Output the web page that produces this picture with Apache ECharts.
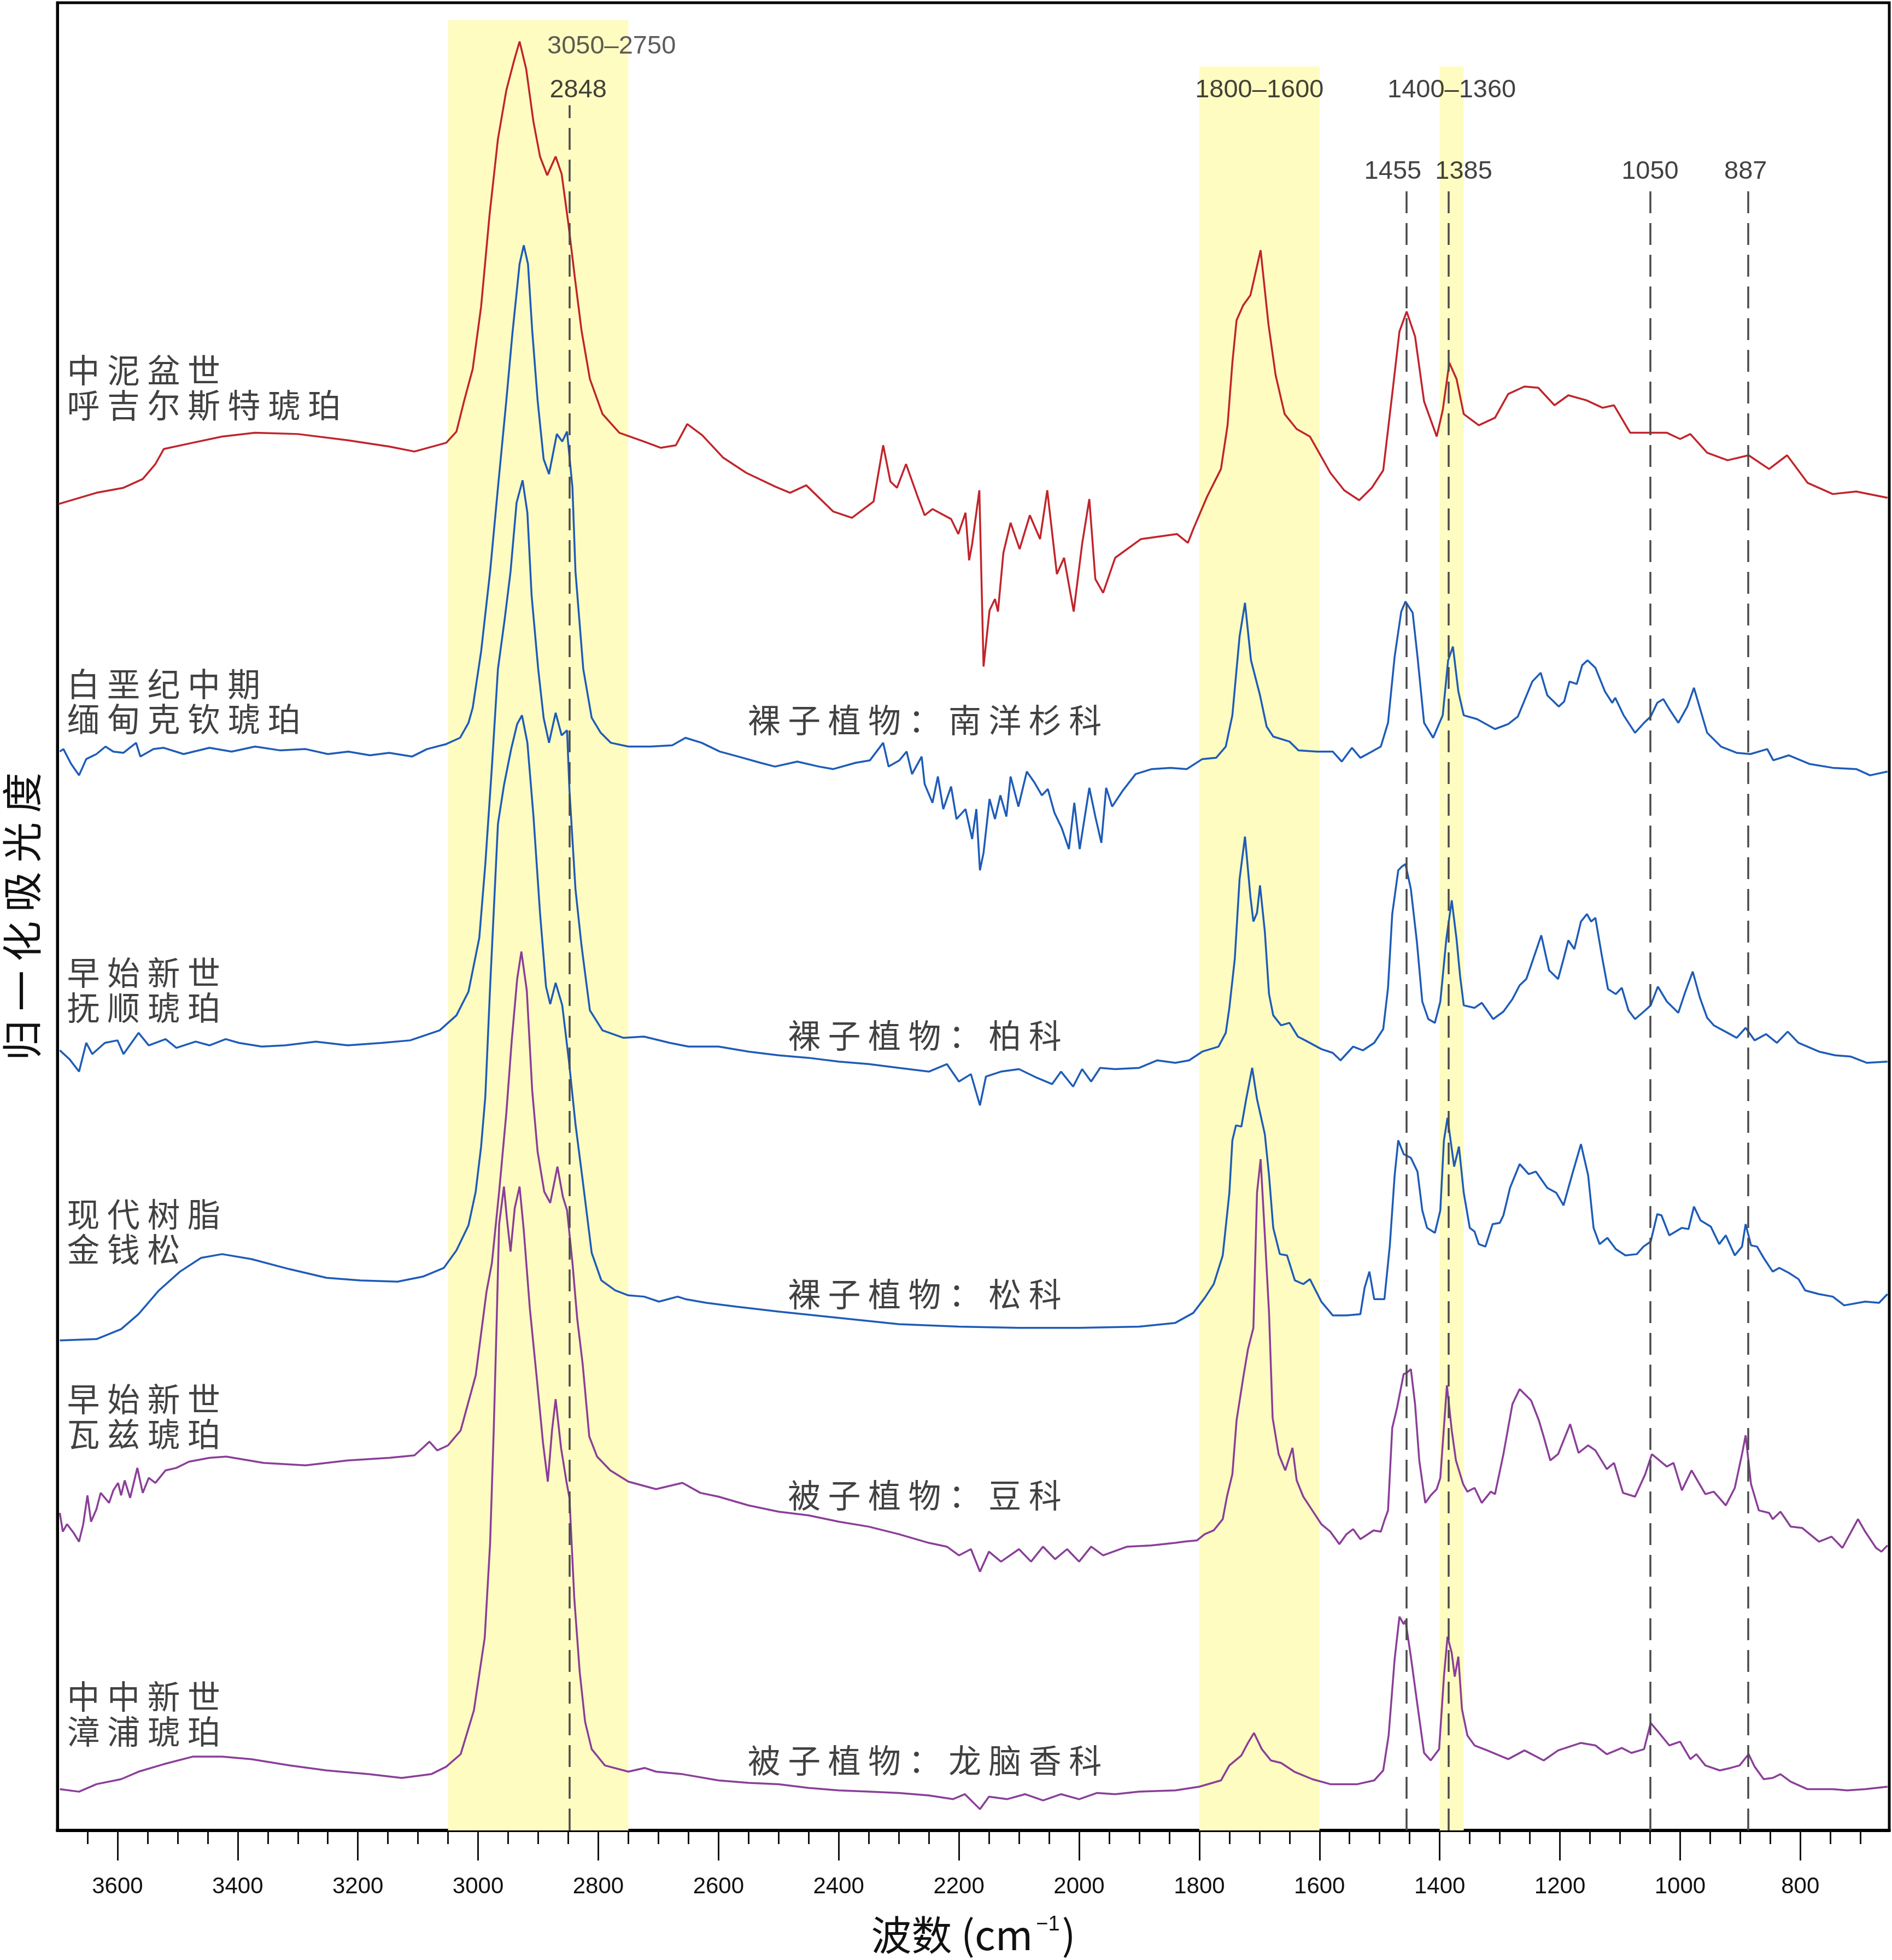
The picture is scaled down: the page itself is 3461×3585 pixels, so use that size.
<!DOCTYPE html>
<html>
<head>
<meta charset="utf-8">
<script src="https://cdn.jsdelivr.net/npm/echarts@6/dist/echarts.min.js"></script>
<style>
  html, body { margin: 0; padding: 0; background: #fff; }
  #chart { width: 3461px; height: 3585px; }
</style>
</head>
<body>
<div id="chart"></div>
<script>
// wavenumber (cm-1) , normalized absorbance (stacked, arbitrary units)
const hujiersite = [[3698,1061],[3635,1070],[3590,1074],[3558,1081],[3537,1093],[3523,1105],[3475,1110],[3426,1115],[3371,1118],[3300,1117],[3217,1112],[3148,1107],[3106,1103],[3053,1110],[3036,1119],[3023,1144],[3009,1169],[2995,1219],[2981,1292],[2967,1353],[2953,1392],[2940,1416],[2931,1431],[2920,1409],[2908,1367],[2897,1339],[2885,1324],[2871,1339],[2861,1325],[2850,1286],[2839,1242],[2828,1200],[2814,1161],[2793,1133],[2765,1118],[2724,1111],[2696,1106],[2671,1108],[2652,1125],[2627,1116],[2592,1098],[2554,1086],[2506,1075],[2481,1070],[2454,1076],[2409,1055],[2378,1050],[2342,1063],[2326,1108],[2314,1079],[2303,1074],[2288,1093],[2268,1066],[2257,1052],[2244,1057],[2213,1049],[2201,1037],[2189,1054],[2183,1016],[2178,1029],[2166,1072],[2159,931],[2149,976],[2140,985],[2135,975],[2126,1022],[2114,1046],[2099,1025],[2082,1052],[2065,1033],[2053,1072],[2037,1005],[2025,1018],[2009,975],[1995,1029],[1983,1065],[1973,1001],[1960,990],[1940,1018],[1897,1033],[1837,1037],[1819,1030],[1810,1041],[1787,1067],[1764,1089],[1753,1124],[1745,1174],[1738,1208],[1727,1220],[1715,1228],[1698,1264],[1685,1205],[1673,1164],[1658,1133],[1638,1121],[1616,1115],[1582,1086],[1559,1072],[1534,1064],[1513,1074],[1494,1088],[1479,1149],[1467,1199],[1455,1215],[1441,1195],[1426,1143],[1405,1115],[1395,1136],[1384,1174],[1372,1161],[1360,1133],[1335,1124],[1308,1130],[1286,1149],[1259,1155],[1236,1154],[1209,1140],[1186,1148],[1156,1144],[1129,1138],[1110,1140],[1083,1118],[1049,1118],[1022,1118],[1000,1113],[983,1117],[955,1102],[921,1096],[886,1100],[852,1089],[822,1100],[788,1078],[746,1069],[707,1071],[655,1066]];

const kachin = [[3696,863],[3690,865],[3677,853],[3664,844],[3652,857],[3635,861],[3620,867],[3607,863],[3590,862],[3569,870],[3562,859],[3540,865],[3523,866],[3490,861],[3447,866],[3410,863],[3371,867],[3330,864],[3287,865],[3250,861],[3216,863],[3180,860],[3148,862],[3110,859],[3085,865],[3053,869],[3030,874],[3016,886],[3009,898],[2995,943],[2980,1007],[2967,1074],[2953,1144],[2943,1197],[2931,1253],[2924,1268],[2917,1253],[2910,1200],[2901,1144],[2891,1097],[2882,1085],[2869,1117],[2860,1111],[2852,1119],[2843,1074],[2838,1007],[2825,929],[2811,890],[2796,878],[2779,870],[2750,867],[2713,867],[2677,868],[2655,874],[2628,870],[2598,863],[2567,859],[2530,854],[2506,851],[2469,855],[2433,851],[2409,849],[2372,854],[2348,856],[2326,870],[2317,851],[2299,856],[2287,863],[2278,845],[2262,859],[2257,837],[2244,822],[2235,843],[2226,817],[2213,835],[2204,809],[2189,817],[2178,793],[2171,817],[2165,768],[2159,782],[2149,825],[2140,809],[2131,828],[2121,811],[2114,843],[2101,819],[2087,847],[2074,838],[2062,828],[2052,833],[2041,814],[2029,802],[2017,785],[2008,822],[1999,785],[1983,834],[1973,811],[1963,790],[1955,834],[1945,819],[1927,832],[1906,845],[1879,849],[1848,850],[1821,849],[1795,857],[1772,858],[1756,867],[1745,892],[1733,955],[1724,982],[1714,936],[1699,908],[1688,883],[1677,875],[1650,871],[1635,864],[1604,863],[1578,863],[1563,855],[1546,866],[1532,858],[1513,863],[1498,867],[1486,886],[1475,939],[1464,975],[1457,983],[1445,974],[1437,939],[1426,886],[1411,874],[1395,892],[1386,936],[1378,947],[1369,911],[1360,892],[1338,889],[1308,881],[1286,885],[1270,891],[1258,905],[1246,919],[1232,926],[1221,908],[1202,899],[1193,903],[1184,919],[1172,917],[1163,932],[1154,936],[1141,930],[1125,911],[1113,902],[1108,906],[1094,892],[1075,878],[1060,886],[1049,891],[1038,902],[1028,905],[1018,897],[1003,886],[988,899],[977,914],[966,896],[955,878],[932,867],[906,862],[883,861],[855,865],[845,856],[819,860],[784,853],[746,850],[707,849],[684,844],[655,847]];

const fushun = [[3696,624],[3680,617],[3664,607],[3652,630],[3642,621],[3621,630],[3600,632],[3590,621],[3565,638],[3548,628],[3520,633],[3502,626],[3470,631],[3447,628],[3420,633],[3398,630],[3360,627],[3321,628],[3270,631],[3217,628],[3160,630],[3113,632],[3064,640],[3036,652],[3016,671],[2998,714],[2988,773],[2977,851],[2967,929],[2956,968],[2946,1007],[2936,1062],[2926,1080],[2918,1054],[2911,988],[2900,929],[2891,890],[2882,870],[2871,894],[2861,876],[2852,880],[2848,832],[2838,753],[2828,708],[2814,656],[2793,640],[2758,634],[2724,635],[2681,630],[2650,627],[2600,627],[2550,623],[2500,620],[2450,618],[2400,615],[2350,613],[2300,610],[2250,607],[2220,613],[2200,599],[2180,605],[2165,580],[2155,603],[2130,607],[2100,609],[2070,602],[2045,597],[2030,607],[2010,595],[1995,609],[1980,599],[1965,610],[1940,609],[1900,610],[1870,616],[1840,614],[1817,616],[1795,623],[1768,627],[1756,638],[1750,658],[1741,697],[1733,761],[1724,795],[1715,747],[1710,727],[1704,734],[1699,756],[1691,719],[1684,669],[1677,652],[1664,644],[1650,646],[1636,635],[1620,631],[1597,625],[1578,622],[1565,616],[1544,627],[1528,624],[1509,630],[1494,641],[1486,674],[1479,733],[1469,768],[1463,771],[1457,773],[1448,753],[1438,711],[1429,663],[1419,649],[1408,646],[1399,663],[1389,713],[1380,744],[1372,713],[1366,683],[1360,660],[1342,658],[1330,662],[1311,649],[1294,655],[1279,665],[1267,676],[1256,681],[1248,692],[1231,716],[1218,688],[1203,681],[1194,697],[1186,712],[1176,705],[1165,727],[1155,733],[1148,727],[1141,730],[1130,699],[1120,673],[1107,669],[1097,674],[1086,656],[1075,649],[1058,656],[1049,660],[1037,675],[1022,663],[1003,654],[992,670],[979,687],[967,666],[955,650],[944,644],[921,638],[906,634],[891,642],[876,632],[857,637],[839,630],[821,639],[803,630],[769,623],[742,620],[716,619],[689,614],[655,615]];

const jinqiansong = [[3696,392],[3635,393],[3594,401],[3565,413],[3531,432],[3496,447],[3461,458],[3426,461],[3377,457],[3314,449],[3252,442],[3196,440],[3134,439],[3092,443],[3057,450],[3036,464],[3016,484],[3004,511],[2995,547],[2988,587],[2980,675],[2973,745],[2967,805],[2957,836],[2945,865],[2935,885],[2927,892],[2918,870],[2908,812],[2897,734],[2887,675],[2880,661],[2871,678],[2860,660],[2849,616],[2838,565],[2826,520],[2811,462],[2795,440],[2772,432],[2750,428],[2724,427],[2699,423],[2668,427],[2655,425],[2620,422],[2570,419],[2500,415],[2400,410],[2300,405],[2200,403],[2100,402],[2000,402],[1900,403],[1840,406],[1810,414],[1791,426],[1776,437],[1761,460],[1750,510],[1745,552],[1739,564],[1730,563],[1722,585],[1712,610],[1704,585],[1691,557],[1684,524],[1677,482],[1666,461],[1654,460],[1641,440],[1627,437],[1616,441],[1597,423],[1578,412],[1555,412],[1532,413],[1525,434],[1517,447],[1509,425],[1492,425],[1483,468],[1475,524],[1469,552],[1460,541],[1448,538],[1437,527],[1429,496],[1421,482],[1408,478],[1399,496],[1393,552],[1387,570],[1376,531],[1368,547],[1360,510],[1350,482],[1342,479],[1335,469],[1324,467],[1312,485],[1300,486],[1294,492],[1283,514],[1267,533],[1252,525],[1240,527],[1221,514],[1206,510],[1194,500],[1180,524],[1165,549],[1153,524],[1144,482],[1134,469],[1121,474],[1107,465],[1091,460],[1072,461],[1061,467],[1049,471],[1038,493],[1031,492],[1018,476],[997,482],[986,481],[977,499],[966,488],[949,483],[935,469],[924,476],[909,460],[897,467],[891,485],[882,468],[872,467],[861,458],[846,447],[835,450],[819,446],[803,441],[792,432],[769,429],[746,427],[727,420],[692,423],[669,422],[655,429]];

const oise = [[3696,254],[3691,239],[3684,245],[3673,238],[3664,231],[3657,245],[3650,268],[3644,247],[3635,257],[3628,270],[3614,262],[3607,272],[3599,278],[3594,268],[3588,280],[3579,266],[3567,290],[3558,270],[3548,282],[3537,278],[3520,288],[3502,290],[3481,295],[3447,298],[3419,299],[3357,294],[3287,292],[3217,296],[3148,298],[3106,300],[3092,306],[3081,311],[3068,304],[3050,308],[3029,320],[3004,364],[2986,431],[2977,454],[2965,511],[2953,574],[2944,632],[2935,681],[2928,703],[2919,672],[2910,592],[2901,543],[2890,511],[2880,502],[2868,531],[2859,507],[2852,496],[2843,454],[2835,409],[2826,373],[2815,315],[2802,299],[2780,288],[2750,279],[2704,273],[2660,278],[2630,270],[2600,267],[2550,260],[2500,255],[2450,252],[2400,247],[2350,243],[2300,237],[2250,230],[2220,227],[2200,220],[2180,225],[2165,207],[2150,223],[2130,215],[2100,225],[2080,215],[2060,227],[2040,217],[2020,225],[2000,215],[1980,227],[1960,220],[1920,227],[1880,228],[1840,230],[1825,231],[1804,232],[1791,237],[1776,240],[1761,249],[1754,267],[1745,285],[1738,328],[1727,362],[1719,385],[1710,402],[1704,510],[1698,537],[1690,468],[1684,414],[1678,330],[1668,301],[1657,288],[1645,306],[1638,280],[1627,267],[1612,256],[1597,245],[1582,239],[1567,229],[1555,237],[1544,241],[1532,233],[1510,240],[1498,239],[1492,248],[1486,256],[1479,322],[1471,338],[1460,365],[1455,366],[1448,369],[1441,341],[1434,296],[1424,262],[1415,268],[1405,273],[1399,282],[1388,356],[1380,320],[1373,296],[1361,277],[1354,271],[1342,274],[1330,262],[1315,271],[1308,269],[1294,301],[1279,341],[1267,353],[1248,344],[1235,328],[1227,315],[1216,296],[1203,301],[1183,325],[1169,302],[1153,308],[1141,304],[1122,289],[1110,294],[1095,270],[1075,267],[1058,285],[1047,301],[1022,291],[1011,294],[997,272],[981,288],[958,269],[944,271],[924,260],[909,274],[897,301],[891,316],[882,277],[869,256],[852,254],[846,249],[833,255],[816,243],[797,242],[769,231],[748,235],[730,226],[704,249],[692,239],[674,226],[665,223],[655,228]];

const zhangpu = [[3696,33],[3664,31],[3635,37],[3594,41],[3565,47],[3523,53],[3475,59],[3426,59],[3377,57],[3314,52],[3252,48],[3182,45],[3127,42],[3078,45],[3053,51],[3029,61],[3007,96],[2989,154],[2980,230],[2974,320],[2969,409],[2965,485],[2957,515],[2952,489],[2946,463],[2939,498],[2931,515],[2924,480],[2914,418],[2902,360],[2892,310],[2884,279],[2877,320],[2871,345],[2862,306],[2853,279],[2848,266],[2840,186],[2831,127],[2822,87],[2811,65],[2789,52],[2750,47],[2723,50],[2704,47],[2660,45],[2600,40],[2550,38],[2500,37],[2450,34],[2400,32],[2350,31],[2300,30],[2250,28],[2210,25],[2190,29],[2165,17],[2150,27],[2120,25],[2090,29],[2060,24],[2030,29],[2000,25],[1970,30],[1940,29],[1900,31],[1840,32],[1800,35],[1764,40],[1750,52],[1730,60],[1719,70],[1709,78],[1696,65],[1681,56],[1664,54],[1642,47],[1612,41],[1582,37],[1552,37],[1537,37],[1509,40],[1494,48],[1485,76],[1475,137],[1467,171],[1460,165],[1457,168],[1448,139],[1437,100],[1426,62],[1415,56],[1401,65],[1393,123],[1387,155],[1380,142],[1375,123],[1369,139],[1363,97],[1354,76],[1342,68],[1321,64],[1286,57],[1259,64],[1227,56],[1203,64],[1165,70],[1141,68],[1122,61],[1097,66],[1081,62],[1060,65],[1049,86],[1035,78],[1018,68],[1000,71],[983,57],[973,61],[958,52],[934,48],[916,50],[901,52],[886,61],[876,51],[861,41],[846,42],[833,45],[816,39],[788,33],[746,33],[722,32],[692,33],[655,35]];

const spectra = [hujiersite, kachin, fushun, jinqiansong, oise, zhangpu];
const spectrumColors = ['#c0252b', '#1e5cb8', '#1e5cb8', '#1e5cb8', '#8a3f98', '#8a3f98'];

const sampleNames = [
  ['中泥盆世', '呼吉尔斯特琥珀'],
  ['白垩纪中期', '缅甸克钦琥珀'],
  ['早始新世', '抚顺琥珀'],
  ['现代树脂', '金钱松'],
  ['早始新世', '瓦兹琥珀'],
  ['中中新世', '漳浦琥珀']
];
const sampleNameAnchors = [[3684,1154],[3684,903],[3684,672],[3684,479],[3684,331],[3684,93]];

const plantGroups = ['裸子植物：南洋杉科', '裸子植物：柏科', '裸子植物：松科', '被子植物：豆科', '被子植物：龙脑香科'];
const plantGroupAnchors = [[2257,888],[2257,636],[2257,429],[2257,268],[2257,56]];

// shaded bands [from, to, top]
const bands = [[3050, 2750, 1448], [1800, 1600, 1411], [1400, 1360, 1411]];
const bandLabels = ['3050–2750', '1800–1600', '1400–1360'];
const bandLabelAnchors = [[2885,1427,'left'], [1700,1392,'center'], [1380,1392,'center']];

// dashed reference lines [wavenumber, top]
const peakLines = [[2848, 1380], [1455, 1313], [1385, 1313], [1050, 1313], [887, 1313]];
const peakLabels = ['2848', '1455', '1385', '1050', '887'];
const peakLabelAnchors = [[2881,1392,'left'], [1478,1327,'center'], [1360,1327,'center'], [1050,1327,'center'], [891,1327,'center']];

const majorTicks = [3600, 3400, 3200, 3000, 2800, 2600, 2400, 2200, 2000, 1800, 1600, 1400, 1200, 1000, 800];
const minorTicks = [];
for (let t = 700; t <= 3650; t += 50) minorTicks.push(t);

const CJK = 'Noto Sans CJK SC';
const LATIN = 'Liberation Sans, Arial, sans-serif';
function spaced(s) { return s.split('').join(' '); }

const chart = echarts.init(document.getElementById('chart'));

const textItems = [];
sampleNames.forEach((n, i) => {
  textItems.push({
    value: sampleNameAnchors[i],
    label: { formatter: spaced(n[0]) + '\n' + spaced(n[1]), align: 'left', fontSize: 60, lineHeight: 64, fontFamily: CJK }
  });
});
plantGroups.forEach((n, i) => {
  textItems.push({
    value: plantGroupAnchors[i],
    label: { formatter: spaced(n), align: 'center', fontSize: 60, fontFamily: CJK }
  });
});
bandLabels.forEach((n, i) => {
  textItems.push({
    value: bandLabelAnchors[i].slice(0, 2),
    label: { formatter: n, align: bandLabelAnchors[i][2], fontSize: 47, fontFamily: LATIN, color: i === 0 ? '#333' : '#111' }
  });
});
peakLabels.forEach((n, i) => {
  textItems.push({
    value: peakLabelAnchors[i].slice(0, 2),
    label: { formatter: n, align: peakLabelAnchors[i][2], fontSize: 47, fontFamily: LATIN }
  });
});

const series = [{
  type: 'line',
  data: [],
  z: 1,
  markArea: {
    silent: true,
    itemStyle: { color: '#fffcc2' },
    data: bands.map(b => [{ xAxis: b[0], yAxis: 0 }, { xAxis: b[1], yAxis: b[2] }])
  },
  markLine: {
    silent: true,
    symbol: 'none',
    animation: false,
    label: { show: false },
    lineStyle: { color: '#4a4a4a', type: [40, 18], width: 3.5 },
    data: peakLines.map(p => [{ coord: [p[0], 0] }, { coord: [p[0], p[1]] }])
  }
}];

spectra.forEach((d, i) => {
  series.push({
    type: 'line',
    data: d,
    showSymbol: false,
    z: 3,
    lineStyle: { color: spectrumColors[i], width: 3.5 },
    animation: false
  });
});

series.push({
  type: 'scatter',
  symbolSize: 0,
  z: 5,
  itemStyle: { color: 'transparent' },
  label: { show: true, position: 'inside', verticalAlign: 'middle', color: '#111' },
  data: textItems,
  animation: false
});

const option = {
  backgroundColor: '#fff',
  animation: false,
  grid: {
    left: 105, right: 5, top: 5, bottom: 237,
    containLabel: false, outerBoundsMode: 'none',
    show: true, borderColor: '#000', borderWidth: 5, backgroundColor: 'transparent'
  },
  xAxis: [{
    type: 'value', min: 652, max: 3700, inverse: true,
    axisLine: { show: true, lineStyle: { color: '#000', width: 6 } },
    axisTick: { show: true, customValues: majorTicks, length: 55, lineStyle: { color: '#111', width: 3 } },
    axisLabel: { customValues: majorTicks, margin: 82, fontSize: 42, color: '#111', fontFamily: LATIN, formatter: v => String(v) },
    splitLine: { show: false },
    name: '{a|波数 (cm}{b|−1}{a|)}',
    nameLocation: 'middle',
    nameGap: 154,
    nameTextStyle: {
      rich: {
        a: { fontSize: 74, fontFamily: CJK, color: '#111' },
        b: { fontSize: 38, fontFamily: LATIN, color: '#111', verticalAlign: 'top', padding: [0, 4, 0, 6] }
      }
    }
  }, {
    type: 'value', min: 652, max: 3700, inverse: true, position: 'bottom',
    axisLine: { show: false },
    axisTick: { show: true, customValues: minorTicks, length: 25, lineStyle: { color: '#111', width: 3 } },
    axisLabel: { show: false },
    splitLine: { show: false }
  }],
  yAxis: {
    type: 'value', min: 0, max: 1462,
    axisLine: { show: true, lineStyle: { color: '#000', width: 5 } },
    axisTick: { show: false },
    axisLabel: { show: false },
    splitLine: { show: false },
    name: spaced('归一化吸光度'),
    nameLocation: 'middle',
    nameGap: 28,
    nameRotate: 90,
    nameTextStyle: { fontSize: 74, fontFamily: CJK, color: '#111' }
  },
  series: series
};

chart.setOption(option);
</script>
</body>
</html>
